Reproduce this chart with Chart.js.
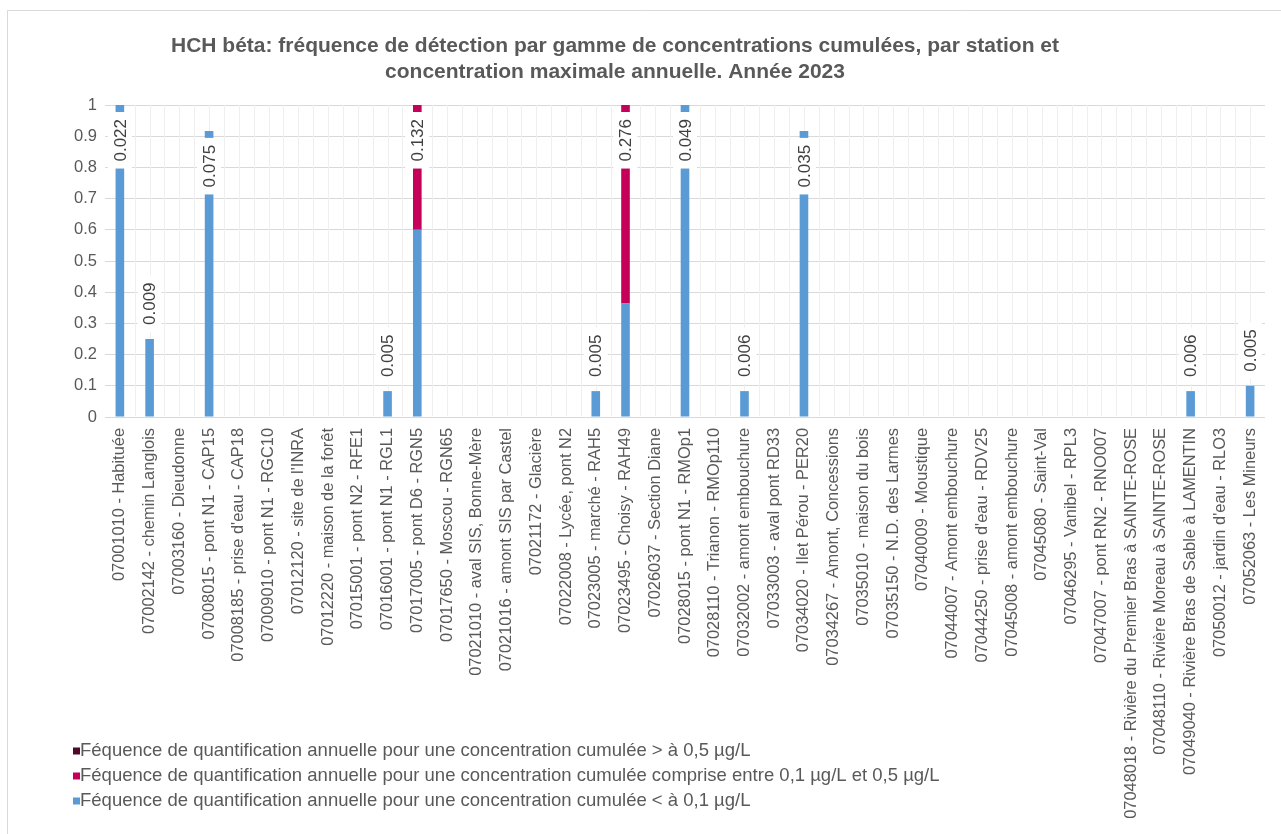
<!DOCTYPE html>
<html>
<head>
<meta charset="utf-8">
<script src="https://cdn.jsdelivr.net/npm/chart.js@4.4.1/dist/chart.umd.min.js"></script>
<style>
  html, body { margin: 0; padding: 0; background: #ffffff; }
  canvas { display: block; }
</style>
</head>
<body>
<canvas id="chart" width="1281" height="834"></canvas>
<script>
// Stations (x categories)
const stations = [
  "07001010 - Habituée",
  "07002142 - chemin Langlois",
  "07003160 - Dieudonne",
  "07008015 - pont N1 - CAP15",
  "07008185 - prise d'eau - CAP18",
  "07009010 - pont N1 - RGC10",
  "07012120 - site de l'INRA",
  "07012220 - maison de la forêt",
  "07015001 - pont N2 - RFE1",
  "07016001 - pont N1 - RGL1",
  "07017005 - pont D6 - RGN5",
  "07017650 - Moscou - RGN65",
  "07021010 - aval SIS, Bonne-Mère",
  "07021016 - amont SIS par Castel",
  "07021172 - Glacière",
  "07022008 - Lycée, pont N2",
  "07023005 - marché - RAH5",
  "07023495 - Choisy - RAH49",
  "07026037 - Section Diane",
  "07028015 - pont N1 - RMOp1",
  "07028110 - Trianon - RMOp110",
  "07032002 - amont embouchure",
  "07033003 - aval pont RD33",
  "07034020 - Ilet Pérou - PER20",
  "07034267 - Amont, Concessions",
  "07035010 - maison du bois",
  "07035150 - N.D. des Larmes",
  "07040009 - Moustique",
  "07044007 - Amont embouchure",
  "07044250 - prise d'eau - RDV25",
  "07045008 - amont embouchure",
  "07045080 - Saint-Val",
  "07046295 - Vanibel - RPL3",
  "07047007 - pont RN2 - RNO007",
  "07048018 - Rivière du Premier Bras à SAINTE-ROSE",
  "07048110 - Rivière Moreau à SAINTE-ROSE",
  "07049040 - Rivière Bras de Sable à LAMENTIN",
  "07050012 - jardin d'eau - RLO3",
  "07052063 - Les Mineurs"
];

// Annual quantification frequency, cumulated concentration < 0.1 µg/L
const freqBelow01 = [
  1.0, 0.25, 0, 0.917, 0, 0, 0, 0, 0, 0.083,
  0.6, 0, 0, 0, 0, 0, 0.083, 0.364, 0, 1.0,
  0, 0.083, 0, 0.917, 0, 0, 0, 0, 0, 0,
  0, 0, 0, 0, 0, 0, 0.083, 0, 0.1
];

// Annual quantification frequency, 0.1 µg/L to 0.5 µg/L
const freqBetween01And05 = [
  0, 0, 0, 0, 0, 0, 0, 0, 0, 0,
  0.4, 0, 0, 0, 0, 0, 0, 0.636, 0, 0,
  0, 0, 0, 0, 0, 0, 0, 0, 0, 0,
  0, 0, 0, 0, 0, 0, 0, 0, 0
];

// Annual quantification frequency, > 0.5 µg/L
const freqAbove05 = [
  0, 0, 0, 0, 0, 0, 0, 0, 0, 0,
  0, 0, 0, 0, 0, 0, 0, 0, 0, 0,
  0, 0, 0, 0, 0, 0, 0, 0, 0, 0,
  0, 0, 0, 0, 0, 0, 0, 0, 0
];

// Annual maximum concentration (µg/L) shown above each station
const maxConcentration = [
  "0.022", "0.009", null, "0.075", null, null, null, null, null, "0.005",
  "0.132", null, null, null, null, null, "0.005", "0.276", null, "0.049",
  null, "0.006", null, "0.035", null, null, null, null, null, null,
  null, null, null, null, null, null, "0.006", null, "0.005"
];

const yTickLabels = ["0", "0.1", "0.2", "0.3", "0.4", "0.5", "0.6", "0.7", "0.8", "0.9", "1"];

const titleLines = [
  "HCH béta: fréquence de détection par gamme de concentrations cumulées, par station et",
  "concentration maximale annuelle. Année 2023"
];

const seriesNames = {
  above: "Féquence de quantification annuelle pour une concentration cumulée > à 0,5 µg/L",
  between: "Féquence de quantification annuelle pour une concentration cumulée comprise entre 0,1 µg/L et 0,5 µg/L",
  below: "Féquence de quantification annuelle pour une concentration cumulée < à 0,1 µg/L"
};

const COLORS = { below: "#5B9BD5", between: "#C6005A", above: "#4E0A28" };
const FONT = "'Liberation Sans', Arial, sans-serif";
const TEXT = "#595959";

// White frame, border and two-line title
const framePlugin = {
  id: "frame",
  beforeDraw(chart) {
    const ctx = chart.ctx;
    ctx.save();
    ctx.fillStyle = "#ffffff";
    ctx.fillRect(0, 0, chart.width, chart.height);
    ctx.strokeStyle = "#d9d9d9";
    ctx.lineWidth = 1;
    ctx.beginPath();
    ctx.moveTo(7.5, chart.height);
    ctx.lineTo(7.5, 10.5);
    ctx.lineTo(chart.width, 10.5);
    ctx.stroke();
    ctx.fillStyle = TEXT;
    ctx.font = "bold 21px " + FONT;
    ctx.textAlign = "center";
    ctx.textBaseline = "middle";
    titleLines.forEach((t, i) => ctx.fillText(t, 615, 46 + i * 26));
    ctx.restore();
  }
};

// Faint vertical guides at every half category
const verticalGuides = {
  id: "verticalGuides",
  beforeDatasetsDraw(chart) {
    const { ctx, chartArea } = chart;
    const n = stations.length * 2;
    const step = (chartArea.right - chartArea.left) / n;
    ctx.save();
    ctx.strokeStyle = "#efefef";
    ctx.lineWidth = 1;
    ctx.beginPath();
    for (let k = 1; k < n; k++) {
      const x = Math.round(chartArea.left + k * step) + 0.5;
      ctx.moveTo(x, chartArea.top);
      ctx.lineTo(x, chartArea.bottom - 1);
    }
    ctx.stroke();
    ctx.restore();
  }
};

// Vertical max-concentration labels on white boxes at the top of each stack
const maxLabels = {
  id: "maxLabels",
  afterDatasetsDraw(chart) {
    const { ctx, chartArea } = chart;
    const yScale = chart.scales.y;
    const meta = chart.getDatasetMeta(0);
    ctx.save();
    ctx.font = "17px " + FONT;
    stations.forEach((_, i) => {
      const txt = maxConcentration[i];
      if (!txt) return;
      const total = freqBelow01[i] + freqBetween01And05[i] + freqAbove05[i];
      const x = meta.data[i].x;
      const top = yScale.getPixelForValue(total);
      const pad = 7, gap = 7, boxW = 24;
      const boxH = ctx.measureText(txt).width + pad * 2;
      let boxTop = top - gap - boxH;
      if (boxTop < chartArea.top) boxTop = top + gap;
      ctx.fillStyle = "#ffffff";
      ctx.fillRect(x - boxW / 2, boxTop, boxW, boxH);
      ctx.save();
      ctx.translate(x + 1, boxTop + boxH / 2);
      ctx.rotate(-Math.PI / 2);
      ctx.textAlign = "center";
      ctx.textBaseline = "middle";
      ctx.fillStyle = "#404040";
      ctx.fillText(txt, 0, 0);
      ctx.restore();
    });
    ctx.restore();
  }
};

// Legend stacked in the lower-left corner
const cornerLegend = {
  id: "cornerLegend",
  afterDraw(chart) {
    const ctx = chart.ctx;
    const items = [
      [seriesNames.above, COLORS.above],
      [seriesNames.between, COLORS.between],
      [seriesNames.below, COLORS.below]
    ];
    ctx.save();
    ctx.font = "18.5px " + FONT;
    ctx.textBaseline = "middle";
    ctx.textAlign = "left";
    items.forEach(([label, color], i) => {
      const y = 751 + i * 25;
      ctx.fillStyle = color;
      ctx.fillRect(73, y - 3.5, 7, 7);
      ctx.fillStyle = TEXT;
      ctx.fillText(label, 80, y);
    });
    ctx.restore();
  }
};

new Chart(document.getElementById("chart"), {
  type: "bar",
  data: {
    labels: stations,
    datasets: [
      { label: seriesNames.below, data: freqBelow01, backgroundColor: COLORS.below, stack: "s" },
      { label: seriesNames.between, data: freqBetween01And05, backgroundColor: COLORS.between, stack: "s" },
      { label: seriesNames.above, data: freqAbove05, backgroundColor: COLORS.above, stack: "s" }
    ]
  },
  options: {
    responsive: false,
    animation: false,
    devicePixelRatio: 1,
    layout: { padding: { top: 105, left: 45, right: 16, bottom: 0 } },
    datasets: { bar: { barPercentage: 0.29, categoryPercentage: 1 } },
    plugins: {
      legend: { display: false },
      tooltip: { enabled: false },
      title: { display: false }
    },
    scales: {
      x: {
        stacked: true,
        grid: { display: false, drawTicks: false },
        border: { display: true, color: "#d9d9d9" },
        ticks: {
          autoSkip: false,
          minRotation: 90,
          maxRotation: 90,
          padding: 11,
          color: TEXT,
          font: { family: FONT, size: 16.4 }
        },
        afterFit(scale) { scale.height = 417; }
      },
      y: {
        stacked: true,
        min: 0,
        max: 1,
        ticks: {
          stepSize: 0.1,
          padding: 8,
          color: TEXT,
          font: { family: FONT, size: 16.5 },
          callback: (v, i) => yTickLabels[i]
        },
        grid: { color: "#d9d9d9", drawTicks: false },
        border: { display: false },
        afterFit(scale) { scale.width = 60; }
      }
    }
  },
  plugins: [framePlugin, verticalGuides, maxLabels, cornerLegend]
});
</script>
</body>
</html>
